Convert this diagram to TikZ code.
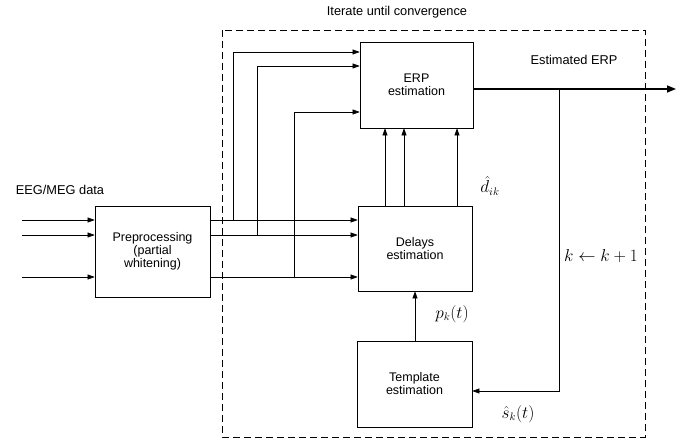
\documentclass[tikz,border=0pt]{standalone}
\usepackage{fontspec}
\setmainfont{Liberation Sans}
\usetikzlibrary{arrows.meta}
\begin{document}
\begin{tikzpicture}[x=1pt,y=-1pt,
  blk/.style={draw,line width=0.7pt,inner sep=0pt,font=\fontsize{12.5}{13}\selectfont,align=center},
  arr/.style={-{Triangle[length=7pt,width=5pt]},line width=0.6pt},
  lbl/.style={font=\fontsize{12.8}{14}\selectfont,inner sep=0pt},
  mlbl/.style={font=\fontsize{16}{18}\selectfont,inner sep=0pt}]
\useasboundingbox (0,0) rectangle (684,446);
% dashed iteration box
\draw[dashed,dash pattern=on 7pt off 4pt,line width=0.7pt] (222,30) rectangle (645,437);
\node[lbl] (iter) at (397,12) {Iterate until convergence};
% blocks
\node[blk,minimum width=113pt,minimum height=86pt] (erp) at (416.5,85) {ERP\\estimation};
\node[blk,minimum width=114pt,minimum height=85pt] (del) at (415,248.5) {Delays\\estimation};
\node[blk,minimum width=115pt,minimum height=91pt] (pre) at (152.5,251.5) {Preprocessing\\(partial\\whitening)};
\node[blk,minimum width=115pt,minimum height=86pt] (tpl) at (414.5,384) {Template\\estimation};
% inputs
\node[lbl] (eeg) at (60,190) {EEG/MEG data};
\coordinate (i1) at (22,220);
\coordinate (i2) at (22,235);
\coordinate (i3) at (22,277);
\draw[arr] (i1) -- (i1 -| pre.west);
\draw[arr] (i2) -- (i2 -| pre.west);
\draw[arr] (i3) -- (i3 -| pre.west);
% preprocessing to delays
\draw[arr] (pre.east |- i1) -- (del.west |- i1);
\draw[arr] (pre.east |- i2) -- (del.west |- i2);
\draw[arr] (pre.east |- i3) -- (del.west |- i3);
% branches to ERP
\coordinate (b1) at (233,220);
\coordinate (b2) at (257,235);
\coordinate (b3) at (294,277);
\draw[arr] (b1) -- (233,52) -- (erp.west |- 0,52);
\draw[arr] (b2) -- (257,66) -- (erp.west |- 0,66);
\draw[arr] (b3) -- (294,112) -- (erp.west |- 0,112);
% delays to ERP
\draw[arr] (del.north -| 385,0) -- (erp.south -| 385,0);
\draw[arr] (del.north -| 404,0) -- (erp.south -| 404,0);
\draw[arr] (del.north -| 457,0) -- (erp.south -| 457,0);
\node[mlbl] (dik) at (490,186) {$\hat{d}_{ik}$};
% output
\coordinate (out) at (676,89);
\draw[-{Triangle[length=9pt,width=7pt]},line width=1.4pt] (erp.east |- out) -- (out);
\node[lbl] (est) at (574,60) {Estimated ERP};
\coordinate (fb) at (559,89);
\draw[arr] (fb) -- (559,391) -- (tpl.east |- 0,391);
\node[mlbl] (kk) at (601,256) {$k\leftarrow k+1$};
\node[mlbl] (shat) at (518,414) {$\hat{s}_k(t)$};
% template to delays
\draw[arr] (tpl.north -| 415,0) -- (del.south -| 415,0);
\node[mlbl] (pk) at (452,314) {$p_k(t)$};
\end{tikzpicture}
\end{document}
